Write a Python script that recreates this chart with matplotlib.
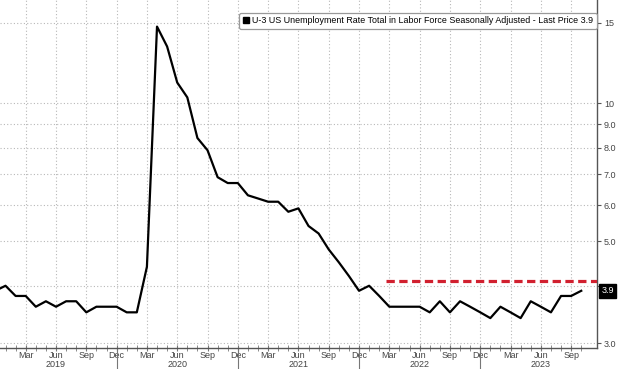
import numpy as np
import pandas as pd
import matplotlib
matplotlib.use("Agg")
import matplotlib.pyplot as plt
from matplotlib.lines import Line2D
from matplotlib.ticker import NullLocator, FixedLocator

#%% data
months = pd.period_range("2018-12", "2023-10", freq="M")
rate = [
    3.9,
    4.0, 3.8, 3.8, 3.6, 3.7, 3.6, 3.7, 3.7, 3.5, 3.6, 3.6, 3.6,
    3.5, 3.5, 4.4, 14.7, 13.3, 11.1, 10.3, 8.4, 7.9, 6.9, 6.7, 6.7,
    6.3, 6.2, 6.1, 6.1, 5.8, 5.9, 5.4, 5.2, 4.8, 4.5, 4.2, 3.9,
    4.0, 3.8, 3.6, 3.6, 3.6, 3.6, 3.5, 3.7, 3.5, 3.7, 3.6, 3.5,
    3.4, 3.6, 3.5, 3.4, 3.7, 3.6, 3.5, 3.8, 3.8, 3.9,
]
target_level = 4.1
target_start = pd.Period("2022-03", freq="M")
y_ticks = [3, 4, 5, 6, 7, 8, 9, 10, 15]
y_labels = ["3.0", "", "5.0", "6.0", "7.0", "8.0", "9.0", "10", "15"]
series_name = "U-3 US Unemployment Rate Total in Labor Force Seasonally Adjusted - Last Price 3.9"

plt.rcParams["font.family"] = ["Liberation Sans Narrow", "Liberation Sans", "DejaVu Sans"]

x = np.arange(len(months))
x_max = len(months) + 0.56

#%% figure
fig = plt.figure(figsize=(6.2, 3.69), dpi=100)
ax = fig.add_axes([0, 21 / 369, 597 / 620, 348 / 369])

ax.set_yscale("log")
ax.set_ylim(2.926, 16.8)
ax.set_xlim(0.455, x_max)

grid_col = "#b8b8b8"
ax.set_yticks(y_ticks)
ax.set_yticklabels(y_labels)
ax.yaxis.set_minor_locator(NullLocator())
ax.yaxis.tick_right()

quarter_idx = [i for i, m in enumerate(months) if m.month in (3, 6, 9, 12) and i > 0]
ax.set_xticks(quarter_idx)
ax.set_xticklabels([months[i].strftime("%b") for i in quarter_idx])
ax.xaxis.set_minor_locator(FixedLocator(x[1:]))

ax.grid(True, which="major", color=grid_col, ls=(0, (1, 2)), lw=0.8)
ax.set_axisbelow(True)

for s in ["left", "top"]:
    ax.spines[s].set_visible(False)
for s in ["right", "bottom"]:
    ax.spines[s].set_color("#555555")
    ax.spines[s].set_linewidth(1)

ax.tick_params(axis="x", which="both", direction="inout", length=4, color="#777777",
               labelsize=6.5, labelcolor="#444444", pad=0.5)
ax.tick_params(axis="y", which="major", direction="out", length=3, color="#555555",
               labelsize=6.5, labelcolor="#444444", pad=2)

# year labels under June, separators at Dec
for i, m in enumerate(months):
    if m.month == 6:
        ax.text(i, -0.046, str(m.year), transform=ax.get_xaxis_transform(),
                ha="center", va="center", fontsize=6.5, color="#444444")
    if m.month == 12 and i > 0:
        ax.plot([i, i], [0, -0.07], transform=ax.get_xaxis_transform(),
                color="#777777", lw=0.8, clip_on=False)

#%% series
ax.plot(x, rate, color="black", lw=1.6, label=series_name, zorder=3)

t0 = (target_start - months[0]).n - 0.3
ax.plot([t0, x_max], [target_level, target_level], color="#d1202f", lw=2.3,
        ls=(0, (2.6, 1.4)), zorder=3)

# last price box
ax.text(1.007, rate[-1], f"{rate[-1]:.1f}", transform=ax.get_yaxis_transform(),
        ha="left", va="center", color="white", fontsize=6.5,
        bbox=dict(boxstyle="square,pad=0.25", fc="black", ec="black"))

handle = Line2D([], [], marker="s", color="black", ls="none", markersize=5)
leg = ax.legend([handle], [series_name], loc="upper right", bbox_to_anchor=(1.0, 0.963),
                borderaxespad=0, fontsize=6.4, frameon=True, fancybox=True,
                handlelength=0.8, handletextpad=0.3, borderpad=0.4)
leg.get_frame().set_edgecolor("#999999")
leg.get_frame().set_linewidth(0.9)
leg.get_frame().set_alpha(1)

fig.savefig("out.png", dpi=100)
